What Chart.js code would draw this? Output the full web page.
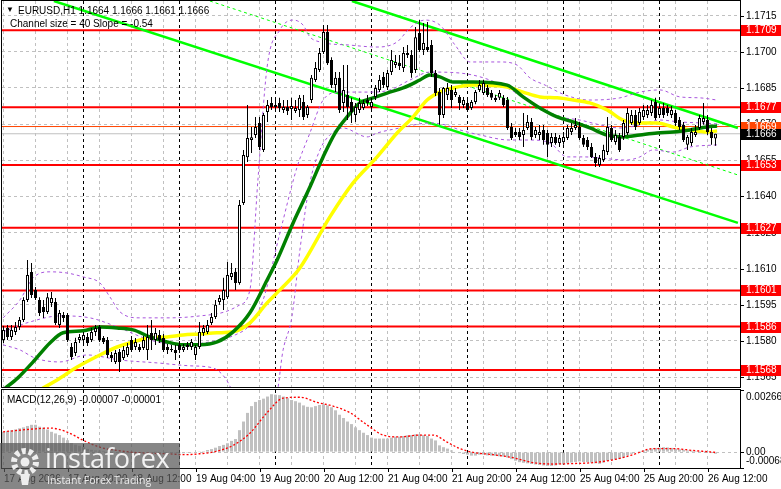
<!DOCTYPE html>
<html>
<head>
<meta charset="utf-8">
<script src="https://cdn.jsdelivr.net/npm/chart.js@4.4.1/dist/chart.umd.min.js"></script>
<style>
  body { margin: 0; background: #fff; width: 781px; height: 489px; overflow: hidden; position: relative; }
  canvas { position: absolute; left: 0; }
  #mainChart { top: 0; }
  #macdChart { top: 389px; }
  .txt { position: absolute; font: 10px "Liberation Sans", Arial, sans-serif; color: #000; white-space: pre; line-height: 12px; }
  #logo { position: absolute; left: 0; top: 443px; width: 180px; height: 46px; background: rgba(88,88,88,0.72); }
  #logo .big { position: absolute; left: 45px; top: 0px; font: 27px "Open Sans", sans-serif; color: #f2f2f2; line-height: 30px; letter-spacing: -0.2px; }
  #logo .small { position: absolute; left: 47px; top: 31px; font: 10.5px "Open Sans", sans-serif; color: #ececec; line-height: 13px; }
</style>
</head>
<body>
<canvas id="mainChart" width="781" height="389"></canvas>
<canvas id="macdChart" width="781" height="100"></canvas>

<div class="txt" style="left:6px;top:4px;font-size:8px">▼</div>
<div class="txt" style="left:18px;top:5px">EURUSD,H1 1.1664 1.1666 1.1661 1.1666</div>
<div class="txt" style="left:10px;top:18px">Channel size = 40 Slope = -0.54</div>
<div class="txt" style="left:7px;top:394px">MACD(12,26,9) -0.00007 -0.00001</div>

<div id="logo">
  <svg width="40" height="42" style="position:absolute;left:5px;top:2px" viewBox="0 0 40 42">
    <circle cx="20" cy="17" r="11" fill="none" stroke="#eee" stroke-width="6" stroke-dasharray="4 2.9"/>
    <circle cx="20" cy="17" r="4.5" fill="#eee"/>
    <path d="M15 29 L25 29 L23 40 L17 40 Z" fill="#eee"/>
  </svg>
  <div class="big">instaforex</div>
  <div class="small">Instant Forex Trading</div>
</div>

<script>
// candles, H1, bar 0 = 17 Aug 04:00
const candleOpen = [
  1.15804,1.15854,1.15816,1.15837,1.15858,1.15887,1.15970,1.16086,1.16012,1.15970,
  1.15941,1.15920,1.15958,1.15962,1.15866,1.15908,1.15908,1.15775,1.15750,1.15804,
  1.15804,1.15816,1.15804,1.15837,1.15858,1.15812,1.15804,1.15742,1.15713,1.15754,
  1.15729,1.15742,1.15804,1.15775,1.15775,1.15771,1.15763,1.15833,1.15804,1.15825,
  1.15812,1.15775,1.15763,1.15763,1.15783,1.15763,1.15783,1.15775,1.15742,1.15775,
  1.15833,1.15837,1.15875,1.15900,1.15962,1.15970,1.15982,1.16066,1.16087,1.16041,
  1.16373,1.16563,1.16634,1.16655,1.16705,1.16593,1.16750,1.16788,1.16771,1.16788,
  1.16759,1.16771,1.16763,1.16754,1.16759,1.16792,1.16738,1.16800,1.16883,1.16925,
  1.16999,1.17082,1.16966,1.16862,1.16892,1.16788,1.16821,1.16792,1.16738,1.16759,
  1.16767,1.16800,1.16771,1.16813,1.16842,1.16896,1.16854,1.16916,1.16945,1.16954,
  1.16933,1.16987,1.16987,1.16925,1.17078,1.17008,1.17020,1.17028,1.16912,1.16833,
  1.16738,1.16821,1.16842,1.16821,1.16813,1.16779,1.16788,1.16767,1.16792,1.16842,
  1.16829,1.16850,1.16829,1.16809,1.16809,1.16809,1.16800,1.16688,1.16667,1.16667,
  1.16655,1.16684,1.16709,1.16655,1.16655,1.16676,1.16663,1.16622,1.16647,1.16622,
  1.16626,1.16642,1.16667,1.16684,1.16688,1.16642,1.16634,1.16605,1.16564,1.16530,
  1.16551,1.16584,1.16684,1.16626,1.16647,1.16647,1.16663,1.16705,1.16738,1.16705,
  1.16730,1.16738,1.16746,1.16792,1.16738,1.16767,1.16767,1.16738,1.16746,1.16717,
  1.16697,1.16614,1.16622,1.16655,1.16684,1.16709,1.16717,1.16667,1.16640
];
const candleHigh = [
  1.15862,1.15866,1.15866,1.15879,1.15900,1.15982,1.16136,1.16124,1.16024,1.15982,
  1.15970,1.15999,1.16003,1.15978,1.15929,1.15920,1.15916,1.15792,1.15813,1.15829,
  1.15837,1.15833,1.15854,1.15866,1.15866,1.15821,1.15816,1.15754,1.15763,1.15767,
  1.15779,1.15792,1.15821,1.15812,1.15787,1.15821,1.15866,1.15887,1.15854,1.15846,
  1.15829,1.15787,1.15783,1.15783,1.15800,1.15787,1.15796,1.15808,1.15783,1.15879,
  1.15866,1.15887,1.15916,1.15970,1.15991,1.16062,1.16128,1.16124,1.16103,1.16385,
  1.16593,1.16779,1.16688,1.16730,1.16730,1.16746,1.16800,1.16813,1.16800,1.16809,
  1.16800,1.16800,1.16809,1.16800,1.16821,1.16821,1.16779,1.16904,1.16958,1.17016,
  1.17111,1.17111,1.16978,1.16916,1.16916,1.16945,1.16945,1.16809,1.16788,1.16809,
  1.16800,1.16821,1.16809,1.16862,1.16904,1.16916,1.16925,1.17008,1.16987,1.16987,
  1.17020,1.17028,1.17008,1.17103,1.17132,1.17120,1.17124,1.17049,1.16925,1.16850,
  1.16854,1.16871,1.16862,1.16850,1.16821,1.16813,1.16800,1.16800,1.16842,1.16883,
  1.16883,1.16862,1.16842,1.16821,1.16842,1.16821,1.16813,1.16705,1.16684,1.16684,
  1.16746,1.16738,1.16725,1.16688,1.16696,1.16696,1.16676,1.16663,1.16663,1.16655,
  1.16667,1.16696,1.16705,1.16725,1.16709,1.16655,1.16647,1.16622,1.16580,1.16572,
  1.16614,1.16730,1.16696,1.16676,1.16663,1.16717,1.16767,1.16759,1.16759,1.16767,
  1.16779,1.16779,1.16800,1.16809,1.16779,1.16788,1.16779,1.16775,1.16759,1.16730,
  1.16709,1.16655,1.16684,1.16696,1.16738,1.16788,1.16738,1.16684,1.16660
];
const candleLow = [
  1.15792,1.15804,1.15804,1.15825,1.15846,1.15879,1.15962,1.15978,1.15970,1.15904,
  1.15895,1.15912,1.15941,1.15866,1.15854,1.15879,1.15796,1.15721,1.15738,1.15792,
  1.15787,1.15779,1.15796,1.15821,1.15796,1.15787,1.15729,1.15713,1.15704,1.15671,
  1.15721,1.15733,1.15754,1.15763,1.15754,1.15763,1.15721,1.15763,1.15783,1.15792,
  1.15754,1.15746,1.15754,1.15721,1.15750,1.15754,1.15763,1.15763,1.15721,1.15767,
  1.15821,1.15829,1.15866,1.15891,1.15950,1.15929,1.15974,1.16053,1.16012,1.16033,
  1.16364,1.16543,1.16580,1.16642,1.16593,1.16584,1.16709,1.16759,1.16750,1.16750,
  1.16746,1.16738,1.16717,1.16746,1.16730,1.16717,1.16725,1.16788,1.16875,1.16916,
  1.16991,1.16945,1.16850,1.16833,1.16746,1.16750,1.16717,1.16705,1.16709,1.16746,
  1.16759,1.16775,1.16759,1.16800,1.16833,1.16850,1.16842,1.16904,1.16933,1.16925,
  1.16916,1.16974,1.16892,1.16912,1.16999,1.16987,1.16999,1.16896,1.16817,1.16697,
  1.16725,1.16800,1.16767,1.16813,1.16759,1.16767,1.16750,1.16759,1.16783,1.16833,
  1.16821,1.16813,1.16800,1.16792,1.16800,1.16771,1.16676,1.16634,1.16647,1.16634,
  1.16605,1.16676,1.16634,1.16642,1.16634,1.16614,1.16564,1.16605,1.16614,1.16605,
  1.16614,1.16634,1.16655,1.16676,1.16634,1.16605,1.16593,1.16559,1.16522,1.16522,
  1.16543,1.16572,1.16626,1.16614,1.16584,1.16634,1.16655,1.16696,1.16676,1.16696,
  1.16717,1.16725,1.16734,1.16717,1.16725,1.16725,1.16734,1.16725,1.16692,1.16676,
  1.16626,1.16593,1.16609,1.16647,1.16676,1.16697,1.16655,1.16614,1.16610
];
const candleClose = [
  1.15846,1.15816,1.15846,1.15858,1.15887,1.15970,1.16074,1.15991,1.15978,1.15916,
  1.15920,1.15982,1.15978,1.15875,1.15916,1.15895,1.15804,1.15733,1.15796,1.15816,
  1.15825,1.15792,1.15837,1.15854,1.15804,1.15796,1.15742,1.15729,1.15750,1.15713,
  1.15763,1.15775,1.15763,1.15796,1.15763,1.15804,1.15816,1.15804,1.15833,1.15804,
  1.15763,1.15763,1.15767,1.15750,1.15763,1.15775,1.15775,1.15796,1.15775,1.15837,
  1.15854,1.15866,1.15900,1.15950,1.15978,1.16012,1.16074,1.16082,1.16041,1.16364,
  1.16572,1.16642,1.16646,1.16688,1.16605,1.16738,1.16779,1.16771,1.16779,1.16767,
  1.16771,1.16754,1.16775,1.16767,1.16809,1.16730,1.16771,1.16892,1.16933,1.16995,
  1.17082,1.16953,1.16862,1.16892,1.16759,1.16842,1.16771,1.16750,1.16771,1.16788,
  1.16788,1.16788,1.16792,1.16850,1.16883,1.16862,1.16912,1.16966,1.16958,1.16941,
  1.16995,1.16995,1.16912,1.17061,1.17008,1.17037,1.17008,1.16912,1.16829,1.16738,
  1.16850,1.16850,1.16800,1.16833,1.16788,1.16800,1.16759,1.16792,1.16833,1.16862,
  1.16871,1.16821,1.16809,1.16800,1.16829,1.16779,1.16684,1.16642,1.16655,1.16647,
  1.16676,1.16709,1.16647,1.16676,1.16667,1.16634,1.16614,1.16647,1.16622,1.16642,
  1.16647,1.16684,1.16684,1.16696,1.16642,1.16614,1.16605,1.16564,1.16539,1.16559,
  1.16593,1.16688,1.16634,1.16655,1.16593,1.16705,1.16746,1.16738,1.16688,1.16750,
  1.16759,1.16759,1.16779,1.16725,1.16767,1.16738,1.16746,1.16759,1.16705,1.16688,
  1.16634,1.16647,1.16667,1.16667,1.16725,1.16725,1.16667,1.16642,1.16660
];

// moving averages [bar, price]
const maGreen = [[-0.1,1.15597],[3.6,1.15647],[7.4,1.15713],[11.6,1.15792],[14.9,1.15834],[19.9,1.15842],[24.1,1.15858],[28.4,1.15854],[32.4,1.15846],[36.6,1.15817],[40.9,1.15796],[44.9,1.15784],[49.1,1.15784],[53.4,1.15796],[57.4,1.15838],[61.6,1.15917],[65.9,1.16053],[68.4,1.16136],[72.4,1.16290],[76.6,1.16439],[79.9,1.16564],[82.9,1.16663],[85.9,1.16730],[89.1,1.16788],[92.4,1.16809],[95.9,1.16829],[99.9,1.16850],[104.1,1.16883],[106.6,1.16904],[109.1,1.16896],[112.4,1.16875],[117.4,1.16875],[125.9,1.16862],[129.9,1.16813],[134.1,1.16767],[138.4,1.16730],[142.4,1.16709],[146.6,1.16684],[150.9,1.16655],[154.9,1.16647],[159.1,1.16655],[163.4,1.16663],[167.4,1.16667],[171.6,1.16676],[175.9,1.16688],[178.4,1.16692]];
const maYellow = [[9.1,1.15597],[13.4,1.15638],[18.4,1.15692],[24.1,1.15742],[28.4,1.15775],[32.4,1.15796],[36.6,1.15813],[40.9,1.15817],[44.9,1.15825],[49.1,1.15829],[53.4,1.15834],[57.4,1.15838],[61.6,1.15875],[65.9,1.15958],[69.1,1.16012],[74.1,1.16103],[81.6,1.16315],[87.4,1.16456],[93.4,1.16564],[98.4,1.16663],[102.4,1.16730],[105.9,1.16800],[109.1,1.16833],[112.4,1.16850],[117.4,1.16862],[125.9,1.16854],[129.9,1.16833],[134.1,1.16813],[138.4,1.16809],[142.4,1.16800],[146.6,1.16788],[150.9,1.16759],[154.9,1.16717],[159.1,1.16705],[163.4,1.16705],[167.4,1.16688],[171.6,1.16676],[175.9,1.16667],[178.4,1.16672]];

// bands [bar, price]
const bandUpper = [[-0.1,1.15896],[4.1,1.15970],[7.4,1.16062],[11.6,1.16087],[15.9,1.16082],[19.9,1.16066],[24.1,1.16041],[26.6,1.15983],[29.1,1.15921],[34.1,1.15896],[41.6,1.15896],[49.1,1.15904],[55.4,1.15921],[59.1,1.15950],[61.6,1.16012],[63.6,1.16468],[65.9,1.16937],[69.1,1.17091],[72.4,1.17132],[74.9,1.17111],[76.6,1.17062],[79.1,1.17041],[86.6,1.17028],[93.4,1.17020],[98.4,1.17041],[101.6,1.17099],[105.4,1.17132],[109.1,1.17111],[112.9,1.17028],[116.6,1.16958],[124.1,1.16958],[128.4,1.16945],[131.6,1.16892],[135.4,1.16862],[140.4,1.16821],[146.6,1.16800],[154.1,1.16809],[159.1,1.16833],[164.1,1.16842],[169.1,1.16813],[174.1,1.16809],[178.4,1.16800]];
const bandMiddle = [[-0.1,1.15838],[6.6,1.15879],[14.1,1.15904],[21.6,1.15896],[29.1,1.15854],[36.6,1.15804],[44.1,1.15784],[51.6,1.15796],[57.9,1.15825],[61.6,1.15867],[64.9,1.15970],[69.1,1.16248],[73.4,1.16522],[76.6,1.16663],[79.9,1.16800],[84.1,1.16833],[92.4,1.16833],[96.6,1.16842],[101.6,1.16883],[106.6,1.16916],[114.1,1.16912],[121.6,1.16883],[129.1,1.16821],[134.1,1.16767],[139.1,1.16730],[144.1,1.16717],[149.1,1.16697],[154.1,1.16684],[159.1,1.16697],[164.1,1.16717],[169.1,1.16709],[174.1,1.16705],[178.4,1.16701]];
const bandLower = [[-0.1,1.15784],[4.1,1.15763],[7.9,1.15729],[14.1,1.15713],[20.9,1.15742],[29.1,1.15721],[38.4,1.15709],[46.6,1.15697],[52.4,1.15688],[55.4,1.15647],[57.9,1.15576],[60.4,1.15555],[67.9,1.15555],[69.9,1.15763],[72.1,1.15900],[74.1,1.16178],[76.6,1.16456],[79.1,1.16593],[81.6,1.16655],[84.9,1.16684],[90.9,1.16647],[93.4,1.16663],[99.1,1.16684],[106.6,1.16705],[110.4,1.16697],[114.1,1.16676],[119.1,1.16655],[126.6,1.16634],[131.6,1.16634],[136.6,1.16622],[140.9,1.16564],[144.9,1.16564],[155.9,1.16551],[159.1,1.16564],[162.4,1.16593],[167.4,1.16584],[171.6,1.16605],[178.4,1.16614]];

// regression channel
const channelUpper = [[87.1,1.17211],[183.6,1.16684]];
const channelMiddle = [[51.6,1.17211],[183.6,1.16489]];
const channelLower = [[12.6,1.17211],[183.6,1.16290]];

const redLevels = [1.1709, 1.1677, 1.1653, 1.1627, 1.1601, 1.1586, 1.1568];
const orangeLevel = 1.1669;
const bidLevel = 1.1666;
const priceTicks = [1.1565, 1.1580, 1.1595, 1.1610, 1.1625, 1.1640, 1.1655, 1.1670, 1.1685, 1.1700, 1.1715];

// MACD
const macdHist = [
  0.00087,0.00090,0.00094,0.00097,0.00102,0.00106,0.00112,0.00117,0.00117,0.00109,
  0.00105,0.00097,0.00087,0.00080,0.00073,0.00062,0.00051,0.00039,0.00032,0.00027,
  0.00021,0.00014,0.00010,0.00007,0.00006,0.00005,0.00003,0.00001,-0.00001,-0.00003,
  -0.00004,-0.00004,-0.00003,-0.00003,-0.00004,-0.00003,-0.00002,0.00000,0.00001,0.00000,
  -0.00002,-0.00003,-0.00004,-0.00005,-0.00005,-0.00005,-0.00004,-0.00003,-0.00002,0.00001,
  0.00004,0.00009,0.00013,0.00019,0.00026,0.00031,0.00038,0.00048,0.00056,0.00094,
  0.00131,0.00168,0.00197,0.00215,0.00223,0.00229,0.00238,0.00248,0.00246,0.00244,
  0.00238,0.00231,0.00223,0.00218,0.00212,0.00200,0.00194,0.00192,0.00197,0.00202,
  0.00204,0.00200,0.00192,0.00179,0.00160,0.00146,0.00131,0.00120,0.00106,0.00094,
  0.00083,0.00073,0.00062,0.00058,0.00058,0.00058,0.00058,0.00062,0.00066,0.00066,
  0.00069,0.00072,0.00073,0.00076,0.00076,0.00073,0.00069,0.00058,0.00050,0.00029,
  0.00021,0.00015,0.00007,0.00002,-0.00004,-0.00008,-0.00011,-0.00015,-0.00015,-0.00011,
  -0.00011,-0.00014,-0.00015,-0.00016,-0.00018,-0.00019,-0.00023,-0.00030,-0.00037,-0.00043,
  -0.00046,-0.00048,-0.00051,-0.00053,-0.00055,-0.00057,-0.00059,-0.00059,-0.00057,-0.00053,
  -0.00053,-0.00048,-0.00045,-0.00042,-0.00040,-0.00042,-0.00043,-0.00045,-0.00048,-0.00050,
  -0.00045,-0.00037,-0.00034,-0.00032,-0.00029,-0.00023,-0.00014,-0.00007,0.00000,0.00004,
  0.00007,0.00010,0.00015,0.00018,0.00019,0.00021,0.00020,0.00018,0.00015,0.00012,
  0.00010,0.00007,0.00006,0.00004,0.00004,0.00004,0.00001,-0.00004,-0.00007
];
const macdSignal = [[-0.1,0.00087],[7.4,0.00099],[11.6,0.00103],[15.9,0.00086],[19.9,0.00051],[24.1,0.00021],[28.4,0.00007],[32.4,-0.00001],[36.6,-0.00005],[40.9,-0.00007],[44.9,-0.00011],[49.1,-0.00007],[53.4,0.00004],[57.4,0.00029],[61.6,0.00081],[65.9,0.00169],[69.9,0.00231],[74.1,0.00235],[78.4,0.00213],[82.4,0.00197],[86.6,0.00169],[90.9,0.00116],[94.9,0.00073],[99.1,0.00065],[104.1,0.00073],[107.4,0.00073],[110.9,0.00043],[114.1,0.00015],[117.4,-0.00001],[122.4,-0.00011],[127.4,-0.00024],[132.4,-0.00045],[137.4,-0.00051],[142.4,-0.00049],[147.4,-0.00045],[152.4,-0.00033],[157.4,-0.00011],[162.4,0.00015],[167.4,0.00015],[172.4,0.00007],[175.9,0.00002],[178,-0.00001]];
const macdTicks = [0.00266, 0, -0.00068];
const macdTickLabels = ['0.00266', '0.00', '-0.00068'];

// time axis
const gridBars = [0,8,16,24,32,40,48,56,64,72,80,88,96,104,112,120,128,136,144,152,160,168,176];
const daySeparators = [20,44,68,92,116,140,164];
const timeLabelBars = [0,16,32,48,64,80,96,112,128,144,160,176];
const timeLabels = ['17 Aug 2026','17 Aug 20:00','18 Aug 12:00','19 Aug 04:00','19 Aug 20:00','20 Aug 12:00',
                    '21 Aug 04:00','21 Aug 20:00','24 Aug 12:00','25 Aug 04:00','25 Aug 20:00','26 Aug 12:00'];

const xMin = -0.375, xMax = 184.125;
const FONT = '10px "Liberation Sans", Arial, sans-serif';

function xAxis() {
  return {
    type: 'linear', min: xMin, max: xMax, offset: false, bounds: 'data',
    grid: {
      offset: false, drawTicks: false, lineWidth: 1,
      color: c => (c.tick && daySeparators.includes(c.tick.value)) ? '#000000' : '#c0c0c0'
    },
    border: { display: false, dash: [3, 3] },
    ticks: { display: false },
    afterBuildTicks: s => { s.ticks = gridBars.concat(daySeparators).sort((a, b) => a - b).map(v => ({ value: v })); },
    afterFit: s => { s.height = 0; }
  };
}

function pts(arr) { return arr.map(p => ({ x: p[0], y: p[1] })); }
function lineSet(arr, color, width, dash, order) {
  return { type: 'line', data: pts(arr), borderColor: color, borderWidth: width, borderDash: dash || [],
           pointRadius: 0, fill: false, cubicInterpolationMode: 'monotone', order: order };
}
function hline(v, color, width, order) {
  return lineSet([[xMin, v], [xMax, v]], color, width, [], order);
}

function drawFrame(ctx, a) {
  ctx.strokeStyle = '#000';
  ctx.lineWidth = 1;
  ctx.strokeRect(a.left - 0.5, a.top - 0.5, a.right - a.left + 1, a.bottom - a.top + 1);
}

const priceAxisLabels = {
  id: 'priceAxisLabels',
  afterDraw(chart) {
    const { ctx, chartArea: a } = chart;
    const y = chart.scales.y;
    ctx.save();
    drawFrame(ctx, a);
    ctx.font = FONT;
    ctx.textBaseline = 'middle';
    ctx.textAlign = 'left';
    priceTicks.forEach(v => {
      const py = Math.round(y.getPixelForValue(v)) + 0.5;
      ctx.beginPath(); ctx.moveTo(a.right, py); ctx.lineTo(a.right + 4, py); ctx.stroke();
      ctx.fillStyle = '#000';
      ctx.fillText(v.toFixed(4), a.right + 6, py);
    });
    const tag = (v, bg) => {
      const py = Math.round(y.getPixelForValue(v));
      ctx.fillStyle = bg;
      ctx.fillRect(a.right + 1, py - 5, 41, 11);
      ctx.fillStyle = '#fff';
      ctx.fillText(v.toFixed(4), a.right + 6, py + 0.5);
    };
    redLevels.forEach(v => tag(v, '#ff0000'));
    tag(orangeLevel, '#ff4500');
    tag(bidLevel, '#000000');
    ctx.restore();
  }
};

const macdAxisLabels = {
  id: 'macdAxisLabels',
  afterDraw(chart) {
    const { ctx, chartArea: a } = chart;
    const x = chart.scales.x, y = chart.scales.y;
    ctx.save();
    drawFrame(ctx, a);
    ctx.font = FONT;
    ctx.fillStyle = '#000';
    ctx.textBaseline = 'middle';
    ctx.textAlign = 'left';
    macdTicks.forEach((v, k) => {
      const py = y.getPixelForValue(v);
      const ty = Math.min(Math.max(py, a.top + 7), a.bottom - 7);
      ctx.beginPath(); ctx.moveTo(a.right, Math.round(py) + 0.5); ctx.lineTo(a.right + 4, Math.round(py) + 0.5); ctx.stroke();
      ctx.fillText(macdTickLabels[k], a.right + 6, ty);
    });
    timeLabelBars.forEach((b, k) => {
      const px = Math.round(x.getPixelForValue(b)) + 0.5;
      ctx.beginPath(); ctx.moveTo(px, a.bottom); ctx.lineTo(px, a.bottom + 4); ctx.stroke();
      ctx.fillText(timeLabels[k], px - 0.5, a.bottom + 11);
    });
    ctx.restore();
  }
};

const bars = candleOpen.map((o, i) => i);

new Chart(document.getElementById('mainChart'), {
  type: 'bar',
  data: {
    datasets: [
      {
        data: bars.map(i => ({ x: i, y: [candleOpen[i], candleClose[i]] })),
        backgroundColor: bars.map(i => candleClose[i] >= candleOpen[i] ? '#ffffff' : '#000000'),
        borderColor: '#000000', borderWidth: 1, borderSkipped: false,
        barThickness: 3, minBarLength: 1, grouped: false, inflateAmount: 0, order: 0
      },
      {
        data: bars.map(i => ({ x: i, y: [candleLow[i], candleHigh[i]] })),
        backgroundColor: '#000000', borderWidth: 0,
        barThickness: 1, grouped: false, inflateAmount: 0, order: 1
      },
      lineSet(maGreen, '#008000', 3.5, [], 2),
      lineSet(maYellow, '#ffff00', 3.5, [], 2),
      lineSet(bandUpper, '#a855dd', 1, [3, 3], 3),
      lineSet(bandMiddle, '#a855dd', 1, [3, 3], 3),
      lineSet(bandLower, '#a855dd', 1, [3, 3], 3),
      lineSet(channelUpper, '#00ff00', 2.5, [], 4),
      lineSet(channelLower, '#00ff00', 2.5, [], 4),
      lineSet(channelMiddle, '#00ff00', 1, [3, 3], 4),
      ...redLevels.map(v => hline(v, '#ff0000', 2, 5)),
      hline(orangeLevel, '#ff4500', 1, 6),
      hline(bidLevel, '#c0c0c0', 1, 7)
    ]
  },
  options: {
    responsive: false, animation: false, events: [],
    layout: { padding: { left: 2, top: 1, right: 0, bottom: 2 } },
    plugins: { legend: { display: false }, tooltip: { enabled: false } },
    scales: {
      x: xAxis(),
      y: {
        type: 'linear', position: 'right', min: 1.15609, max: 1.17211, bounds: 'data',
        grid: { drawTicks: false, color: '#c0c0c0', lineWidth: 1 },
        border: { display: false, dash: [3, 3] },
        ticks: { display: false },
        afterBuildTicks: s => { s.ticks = priceTicks.map(v => ({ value: v })); },
        afterFit: s => { s.width = 41; }
      }
    }
  },
  plugins: [priceAxisLabels]
});

new Chart(document.getElementById('macdChart'), {
  type: 'bar',
  data: {
    datasets: [
      lineSet(macdSignal, '#ff0000', 1.3, [2, 2], 0),
      {
        data: macdHist.map((v, i) => ({ x: i, y: v })),
        backgroundColor: '#c0c0c0', borderWidth: 0,
        barThickness: 3, grouped: false, inflateAmount: 0, order: 1
      }
    ]
  },
  options: {
    responsive: false, animation: false, events: [],
    layout: { padding: { left: 2, top: 1, right: 0, bottom: 21 } },
    plugins: { legend: { display: false }, tooltip: { enabled: false } },
    scales: {
      x: xAxis(),
      y: {
        type: 'linear', position: 'right', min: -0.00068, max: 0.00266, bounds: 'data',
        grid: { drawTicks: false, color: '#c0c0c0', lineWidth: 1 },
        border: { display: false, dash: [3, 3] },
        ticks: { display: false },
        afterBuildTicks: s => { s.ticks = [{ value: 0 }]; },
        afterFit: s => { s.width = 41; }
      }
    }
  },
  plugins: [macdAxisLabels]
});
</script>
</body>
</html>
